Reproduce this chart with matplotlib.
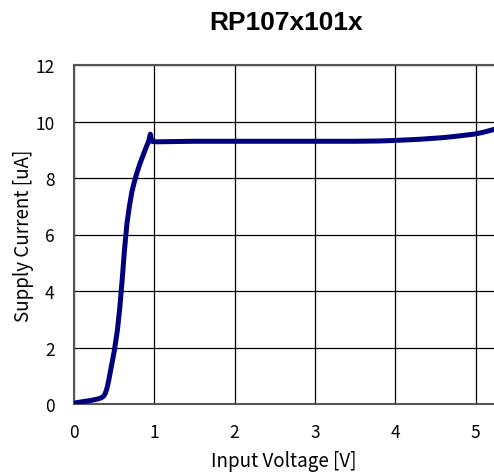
import matplotlib
matplotlib.use("Agg")
import matplotlib.pyplot as plt

voltage = [0.0, 0.1, 0.2, 0.3, 0.34, 0.37, 0.39, 0.41, 0.43, 0.46, 0.5, 0.54, 0.57, 0.6, 0.63, 0.66, 0.69, 0.72, 0.75, 0.78, 0.82, 0.86, 0.9, 0.93, 0.95, 0.97, 1.0, 1.5, 2.0, 2.5, 3.0, 3.5, 3.8, 4.0, 4.3, 4.6, 4.8, 5.0, 5.1, 5.23]
current = [0.03, 0.08, 0.12, 0.18, 0.22, 0.28, 0.38, 0.55, 0.8, 1.25, 1.85, 2.6, 3.4, 4.4, 5.5, 6.4, 7.0, 7.5, 7.85, 8.15, 8.5, 8.8, 9.1, 9.3, 9.55, 9.3, 9.28, 9.3, 9.3, 9.3, 9.3, 9.3, 9.31, 9.33, 9.37, 9.43, 9.49, 9.56, 9.62, 9.72]

xticks = [0, 1, 2, 3, 4, 5]
yticks = [0, 2, 4, 6, 8, 10, 12]

fig = plt.figure(figsize=(4.94, 4.77), dpi=100)
ax = fig.add_axes([74/494, 72/477, 1 - 74/494, (405-66)/477])
ax.plot(voltage, current, color="#00007f", lw=3.6, solid_capstyle="round", solid_joinstyle="round", zorder=3)
ax.set_xlim(0, 5.23)
ax.set_ylim(0, 12)
ax.set_xticks(xticks)
ax.set_yticks(yticks)
ax.grid(True, color="black", lw=0.9)
for s in ["left", "top", "bottom"]:
    ax.spines[s].set_color("#555555")
    ax.spines[s].set_linewidth(1.5)
ax.spines["right"].set_visible(False)
tf = ["Noto Sans CJK JP", "DejaVu Sans"]
ax.tick_params(axis="y", length=0, labelsize=12.5, pad=14)
ax.tick_params(axis="x", length=0, labelsize=12.5, pad=14)
for lab in ax.get_xticklabels() + ax.get_yticklabels():
    lab.set_family(tf)
ax.set_xlabel("Input Voltage [V]", fontsize=13.5, family=tf, labelpad=6)
ax.set_ylabel("Supply Current [uA]", fontsize=13.5, family=tf, labelpad=1)
fig.text(286/494, 1 - 23/477, "RP107x101x", ha="center", va="center", fontsize=19, fontweight="bold", family="Liberation Sans")
fig.savefig("out.png", dpi=100)
